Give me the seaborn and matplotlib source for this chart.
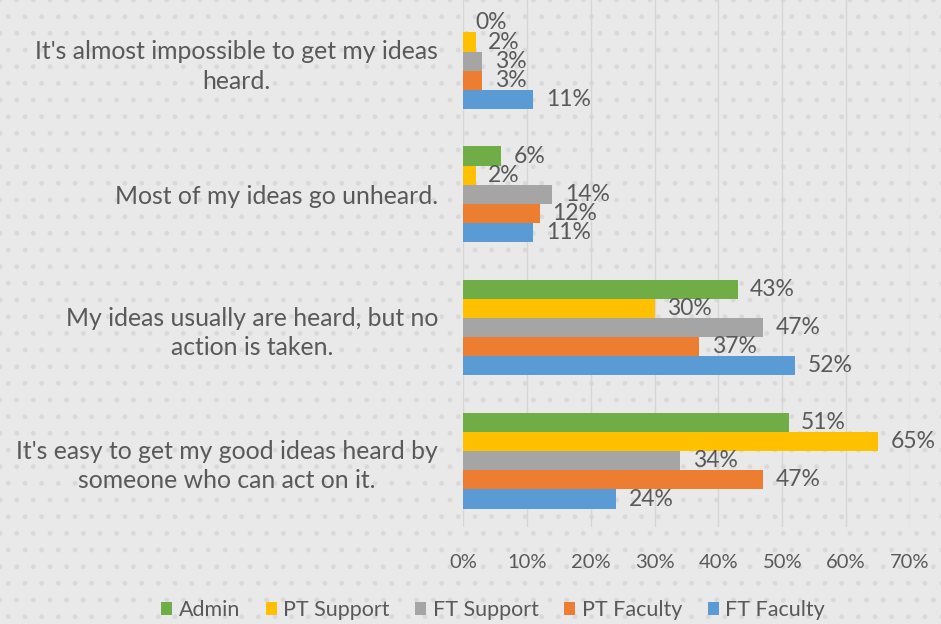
import matplotlib
matplotlib.use("Agg")
import matplotlib.pyplot as plt
from matplotlib.patches import Rectangle, Patch
import pandas as pd
import seaborn as sns

# --- data ---
categories = [
    "It's almost impossible to get my ideas\nheard.",
    "Most of my ideas go unheard.",
    "My ideas usually are heard, but no\naction is taken.",
    "It's easy to get my good ideas heard by\nsomeone who can act on it.",
]
groups = ["Admin", "PT Support", "FT Support", "PT Faculty", "FT Faculty"]
admin = [0.00, 0.06, 0.43, 0.51]
pt_support = [0.02, 0.02, 0.30, 0.65]
ft_support = [0.03, 0.14, 0.47, 0.34]
pt_faculty = [0.03, 0.12, 0.37, 0.47]
ft_faculty = [0.11, 0.11, 0.52, 0.24]
colors = ["#70AD47", "#FFC000", "#A5A5A5", "#ED7D31", "#5B9BD5"]
xticks = [0, 0.1, 0.2, 0.3, 0.4, 0.5, 0.6, 0.7]

series = [admin, pt_support, ft_support, pt_faculty, ft_faculty]
rows = []
for g, vals in zip(groups, series):
    for c, v in zip(categories, vals):
        rows.append({"cat": c, "grp": g, "val": v})
df = pd.DataFrame(rows)

sns.set_theme(style="white")
plt.rcParams["font.family"] = ["Lato", "DejaVu Sans"]
txt = "#595959"

fig = plt.figure(figsize=(9.41, 6.24), dpi=100)
fig.patch.set_facecolor("#e9e9e9")
bg = Rectangle((0, 0), 1, 1, transform=fig.transFigure, facecolor="#e9e9e9",
               edgecolor="#d9d9d9", hatch=".", linewidth=0, zorder=-10)
fig.patches.append(bg)

ax = fig.add_axes([0.492, 0.155, 0.475, 0.845])
ax.set_facecolor("none")

sns.barplot(data=df, y="cat", x="val", hue="grp", hue_order=groups,
            order=categories, palette=colors, orient="h", width=0.72,
            gap=0, saturation=1, ax=ax, legend=False, edgecolor="none")

for cont, vals in zip(ax.containers, series):
    ax.bar_label(cont, labels=[f"{v*100:.0f}%" for v in vals], padding=9,
                 fontsize=16.5, color=txt)

ax.set_xlim(0, 0.7)
ax.set_ylim(3.5, -0.46)
ax.set_xticks(xticks)
ax.set_xticklabels([f"{t*100:.0f}%" for t in xticks], fontsize=14.5, color=txt)
ax.tick_params(axis="x", pad=19, length=0)
ax.tick_params(axis="y", pad=18, length=0)
for lbl in ax.get_yticklabels():
    lbl.set_fontsize(17.8)
    lbl.set_color(txt)
    lbl.set_multialignment("center")
    lbl.set_linespacing(1.35)
ax.set_xlabel("")
ax.set_ylabel("")
ax.grid(axis="x", color="#d6d6d6", linewidth=1)
ax.set_axisbelow(True)
for s in ax.spines.values():
    s.set_visible(False)

handles = [Patch(facecolor=c, edgecolor="none") for c in colors]
fig.legend(handles, groups, loc="center", bbox_to_anchor=(0.524, 0.022), ncol=5,
           frameon=False, fontsize=15.5, handlelength=0.5, handleheight=0.5,
           handletextpad=0.3, columnspacing=1.2, labelcolor=txt)

fig.savefig("out.png", dpi=100, facecolor=fig.get_facecolor())
